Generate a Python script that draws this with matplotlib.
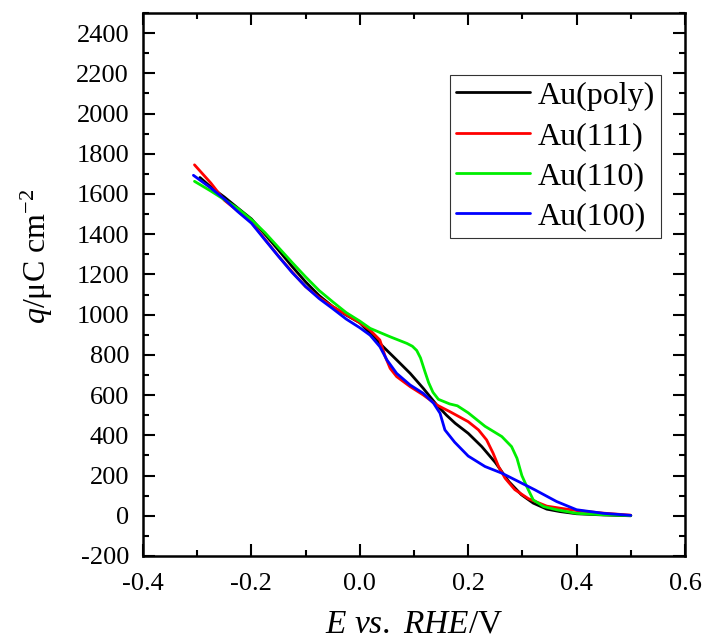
import matplotlib
matplotlib.use("Agg")
import matplotlib.pyplot as plt
from matplotlib.ticker import MultipleLocator, FormatStrFormatter

plt.rcParams["font.family"] = ["Liberation Serif", "DejaVu Serif"]
plt.rcParams["mathtext.fontset"] = "custom"
plt.rcParams["mathtext.rm"] = "Liberation Serif"
plt.rcParams["mathtext.it"] = "Liberation Serif:italic"
plt.rcParams["axes.unicode_minus"] = False

# Charge density q (µC cm^-2) vs. potential E (V vs. RHE)
E_poly = [-0.295, -0.275, -0.25, -0.225, -0.2, -0.175, -0.15, -0.125, -0.1, -0.075, -0.05,
          -0.025, 0.0, 0.019, 0.043, 0.068, 0.093, 0.117, 0.142, 0.16, 0.176, 0.2, 0.225,
          0.25, 0.275, 0.298, 0.32, 0.345, 0.369, 0.40, 0.45, 0.50]
q_poly = [1682, 1635, 1585, 1530, 1476, 1400, 1321, 1240, 1163, 1095, 1040,
          998, 960, 907, 841, 775, 708, 634, 551, 500, 460, 410, 344,
          265, 170, 105, 63, 33, 21, 10, 4, 0]

E_111 = [-0.305, -0.275, -0.25, -0.225, -0.2, -0.175, -0.15, -0.125, -0.1, -0.075, -0.05,
         -0.025, 0.0, 0.019, 0.037, 0.047, 0.056, 0.068, 0.093, 0.117, 0.142, 0.166, 0.2,
         0.219, 0.234, 0.246, 0.256, 0.268, 0.286, 0.311, 0.345, 0.369, 0.40, 0.45, 0.50]
q_111 = [1745, 1655, 1569, 1515, 1461, 1375, 1291, 1213, 1139, 1085, 1040,
         1000, 960, 923, 874, 791, 733, 692, 642, 601, 551, 518, 468,
         427, 377, 311, 245, 187, 130, 85, 48, 38, 26, 13, 3]

E_110 = [-0.305, -0.275, -0.25, -0.225, -0.2, -0.175, -0.15, -0.125, -0.1, -0.075, -0.05,
         -0.025, 0.0, 0.019, 0.056, 0.087, 0.097, 0.105, 0.112, 0.120, 0.127, 0.135, 0.145,
         0.166, 0.18, 0.2, 0.231, 0.262, 0.28, 0.29, 0.299, 0.309, 0.32, 0.339, 0.363, 0.40,
         0.45, 0.50]
q_110 = [1663, 1615, 1572, 1528, 1473, 1408, 1334, 1260, 1188, 1120, 1064,
         1010, 968, 932, 890, 857, 843, 822, 785, 718, 662, 614, 579,
         556, 547, 512, 445, 394, 344, 286, 200, 140, 79, 46, 30, 12,
         5, 1]

E_100 = [-0.307, -0.275, -0.25, -0.225, -0.2, -0.175, -0.15, -0.125, -0.1, -0.075, -0.05,
         -0.025, 0.0, 0.019, 0.037, 0.05, 0.068, 0.093, 0.117, 0.136, 0.148, 0.157, 0.175,
         0.2, 0.231, 0.262, 0.293, 0.323, 0.363, 0.40, 0.45, 0.50]
q_100 = [1693, 1630, 1575, 1512, 1455, 1372, 1290, 1210, 1140, 1080, 1030,
         978, 935, 898, 841, 775, 708, 650, 609, 560, 510, 427, 366,
         297, 245, 212, 170, 129, 71, 30, 12, 2]

series = [
    ("Au(poly)", E_poly, q_poly, "#000000"),
    ("Au(111)", E_111, q_111, "#ff0000"),
    ("Au(110)", E_110, q_110, "#00ee00"),
    ("Au(100)", E_100, q_100, "#0000ff"),
]

fig = plt.figure(figsize=(7.04, 6.43), dpi=100)
ax = fig.add_axes([143 / 704, 87 / 643, 542 / 704, 543 / 643])

for label, E, q, color in series:
    ax.plot(E, q, color=color, lw=2.0, label=label,
            solid_joinstyle="round", solid_capstyle="round")

ax.set_xlim(-0.4, 0.6)
ax.set_ylim(-200, 2500)
ax.xaxis.set_major_locator(MultipleLocator(0.2))
ax.xaxis.set_minor_locator(MultipleLocator(0.1))
ax.yaxis.set_major_locator(MultipleLocator(200))
ax.yaxis.set_minor_locator(MultipleLocator(100))
ax.xaxis.set_major_formatter(FormatStrFormatter("%.1f"))

for s in ax.spines.values():
    s.set_linewidth(1.8)
ax.tick_params(which="both", direction="in", top=True, right=True, width=1.5)
ax.tick_params(which="major", length=8.5, labelsize=19)
ax.tick_params(which="minor", length=4.5)
ax.tick_params(axis="y", which="major", pad=10)
ax.tick_params(axis="x", which="major", pad=12)

ax.set_xlabel(r"$E$ $vs.$ $RHE$/V", fontsize=24)
ax.set_ylabel(r"$q$/μC cm$^{-2}$", fontsize=23)
ax.xaxis.set_label_coords(0.5, -0.098)
ax.yaxis.set_label_coords(-0.196, 0.552)
ax.yaxis.label.set_va("center")

leg = ax.legend(loc="upper right", bbox_to_anchor=(0.956, 0.886), borderaxespad=0,
                fontsize=23, handlelength=2.3, handletextpad=0.25, labelspacing=0.34,
                borderpad=0.2, fancybox=False, frameon=True)
leg.get_frame().set_edgecolor("black")
leg.get_frame().set_linewidth(0.8)
for h in leg.get_lines():
    h.set_linewidth(2.0)

fig.savefig("out.png", dpi=100)
